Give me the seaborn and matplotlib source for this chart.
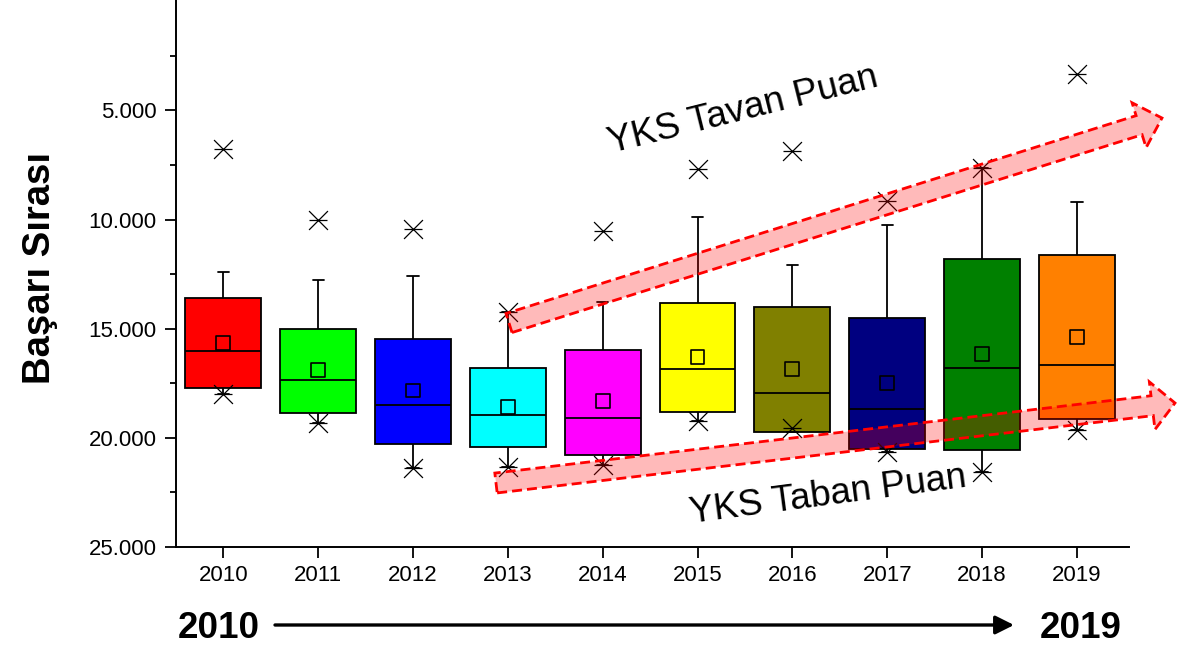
import numpy as np
import pandas as pd
import seaborn as sns
import matplotlib.pyplot as plt
from matplotlib.patches import Polygon
from matplotlib.ticker import FixedLocator, FuncFormatter

# Values (rank, smaller = better, axis inverted)
years = ['2010', '2011', '2012', '2013', '2014', '2015', '2016', '2017', '2018', '2019']
box_colors = ['#FF0000', '#00FF00', '#0000FF', '#00FFFF', '#FF00FF',
              '#FFFF00', '#808000', '#000080', '#008000', '#FF8000']
top_marks = [6750, 10030, 10430, 14230, 10520, 7670, 6840, 9130, 7640, 3320]
whisker_top = [12380, 12790, 12570, 14230, 13790, 9900, 12060, 10260, 7640, 9210]
box_top = [13590, 14990, 15450, 16780, 15970, 13820, 14000, 14500, 11790, 11640]
medians = [16040, 17340, 18480, 18940, 19100, 16840, 17950, 18700, 16780, 16640]
means = [15650, 16910, 17830, 18590, 18330, 16300, 16840, 17480, 16150, 15370]
box_bottom = [17710, 18880, 20270, 20440, 20770, 18820, 19710, 20530, 20560, 19120]
whisker_bottom = [18010, 19310, 21370, 21320, 21260, 19230, 19710, 20650, 21550, 19660]
bottom_marks = [18010, 19310, 21370, 21320, 21260, 19230, 19540, 20650, 21550, 19660]

W, H = 1177, 670

# five numbers per year -> seaborn/matplotlib get exactly these quartiles and whiskers
rows = []
for i, yr in enumerate(years):
    for v in (whisker_top[i], box_top[i], medians[i], box_bottom[i], whisker_bottom[i]):
        rows.append((yr, v))
df = pd.DataFrame(rows, columns=['Yil', 'Sira'])

sns.set_style('ticks')
plt.rcParams['font.family'] = ['Liberation Sans', 'DejaVu Sans']
plt.rcParams.update({'text.color': 'black', 'axes.edgecolor': 'black',
                     'xtick.color': 'black', 'ytick.color': 'black',
                     'axes.labelcolor': 'black'})

fig = plt.figure(figsize=(W / 100, H / 100), dpi=100)
ax = fig.add_axes([176 / W, 1 - 547 / H, (1129 - 176) / W, 547 / H])

sns.boxplot(data=df, x='Yil', y='Sira', hue='Yil', palette=box_colors, saturation=1,
            width=0.8, whis=(0, 100), linecolor='black', linewidth=1.3,
            legend=False, capwidths=0.12, ax=ax)

pos = np.arange(len(years))
# 1% / 99% style markers: an x with a horizontal bar
for m in ('x', '_'):
    sns.scatterplot(x=pos, y=top_marks, marker=m, s=185, color='black', linewidth=0.9, ax=ax, zorder=4)
    sns.scatterplot(x=pos, y=bottom_marks, marker=m, s=185, color='black', linewidth=0.9, ax=ax, zorder=4)
# mean as open square
sns.scatterplot(x=pos, y=means, marker='s', s=100, facecolor='none', edgecolor='black',
                linewidth=1.2, ax=ax, zorder=4)

ax.set_xlim(-0.5, 9.55)
ax.set_ylim(25000, -60)
ax.set_yticks([5000, 10000, 15000, 20000, 25000])
ax.yaxis.set_minor_locator(FixedLocator([2500, 7500, 12500, 17500, 22500]))
ax.yaxis.set_major_formatter(FuncFormatter(lambda v, p: f"{int(v):,}".replace(',', '.')))
ax.set_xticks(pos)
ax.set_xticklabels(years)
ax.set_xlabel('')
ax.set_ylabel('')
for s in ('top', 'right'):
    ax.spines[s].set_visible(False)
for s in ('left', 'bottom'):
    ax.spines[s].set_linewidth(1.4)
ax.tick_params(axis='both', which='major', length=8, width=1.3, labelsize=16, color='black',
               labelcolor='black')
ax.tick_params(axis='y', which='minor', length=4.5, width=1.3, color='black')
ax.tick_params(axis='y', pad=6)
ax.tick_params(axis='x', pad=5)

fig.text(40 / W, 1 - 268 / H, 'Başarı Sırası', rotation=90, ha='center', va='center',
         fontsize=27.5, fontweight='bold')


def fat_arrow(tail, tip, shaft_w, head_w, head_len):
    t = np.array(tail, float)
    p = np.array(tip, float)
    u = (p - t) / np.hypot(*(p - t))
    n = np.array([-u[1], u[0]])
    base = p - u * head_len
    pts = [t + n * shaft_w / 2, base + n * shaft_w / 2, base + n * head_w / 2, p,
           base - n * head_w / 2, base - n * shaft_w / 2, t - n * shaft_w / 2]
    pts = [(x / W, 1 - y / H) for x, y in pts]
    poly = Polygon(pts, closed=True, transform=fig.transFigure, facecolor=(1, 0, 0, 0.27),
                   edgecolor='red', linestyle=(0, (3.6, 1.8)), linewidth=2.0, zorder=6,
                   clip_on=False)
    ax.add_patch(poly)


fat_arrow((509, 323), (1162, 118), 20, 47, 24)
fat_arrow((496, 483), (1175, 403), 20, 48, 23)

fig.text(745 / W, 1 - 120 / H, 'YKS Tavan Puan', fontsize=26.5, rotation=14,
         rotation_mode='anchor', ha='center', va='baseline')
fig.text(829 / W, 1 - 505 / H, 'YKS Taban Puan', fontsize=26.5, rotation=7.5,
         rotation_mode='anchor', ha='center', va='baseline')

# time arrow under the axis
fig.text(219 / W, 1 - 638 / H, '2010', fontsize=26.5, fontweight='bold', ha='center', va='baseline')
fig.text(1081 / W, 1 - 638 / H, '2019', fontsize=26.5, fontweight='bold', ha='center', va='baseline')
ax.annotate('', xy=(1014 / W, 1 - 625 / H), xytext=(275 / W, 1 - 625 / H),
            xycoords='figure fraction', textcoords='figure fraction',
            arrowprops=dict(arrowstyle='-|>', lw=2.4, color='black', mutation_scale=28,
                            shrinkA=0, shrinkB=0))

fig.savefig('out.png', dpi=100)
